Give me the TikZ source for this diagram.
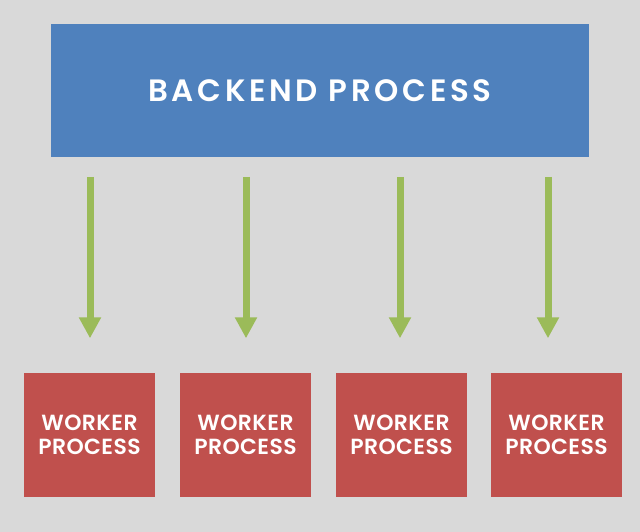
\documentclass[tikz,border=0pt]{standalone}
\usepackage{fontspec}
\setmainfont{Poppins}[BoldFont={* SemiBold}]
\usetikzlibrary{arrows.meta}
\definecolor{bg}{HTML}{D9D9D9}
\definecolor{bluebox}{HTML}{4F81BD}
\definecolor{redbox}{HTML}{C0504D}
\definecolor{greenarr}{HTML}{9BBB59}
\tikzset{
  backendbox/.style={fill=bluebox, draw=none, minimum width=538bp, minimum height=133bp, inner sep=0pt, text=white, font=\bfseries\fontsize{31}{33}\selectfont\addfontfeature{LetterSpace=12}},
  workerbox/.style={fill=redbox, draw=none, minimum width=131bp, minimum height=124bp, inner sep=0pt, text=white, align=center, font=\bfseries\fontsize{22}{24}\selectfont\addfontfeature{LetterSpace=2}},
  flowarrow/.style={draw=greenarr, line width=7bp, -{Triangle[width=21bp,length=21bp]}, shorten <=20bp, shorten >=34bp}
}
\begin{document}
\begin{tikzpicture}[x=1bp,y=-1bp]
\fill[bg] (0,0) rectangle (640,532);
\useasboundingbox (0,0) rectangle (640,532);
\node[backendbox] (be) at (320,91) {BACKEND PROCESS};
\node[workerbox] (w1) at (89.5,434.5) {WORKER\\PROCESS};
\node[workerbox] (w2) at (245.5,434.5) {WORKER\\PROCESS};
\node[workerbox] (w3) at (401.5,434.5) {WORKER\\PROCESS};
\node[workerbox] (w4) at (556.5,434.5) {WORKER\\PROCESS};
\coordinate (s1) at (90,157);
\coordinate (s2) at (246,157);
\coordinate (s3) at (400,157);
\coordinate (s4) at (548,157);
\draw[flowarrow] (s1) -- (s1 |- w1.north);
\draw[flowarrow] (s2) -- (s2 |- w2.north);
\draw[flowarrow] (s3) -- (s3 |- w3.north);
\draw[flowarrow] (s4) -- (s4 |- w4.north);
\end{tikzpicture}
\end{document}
